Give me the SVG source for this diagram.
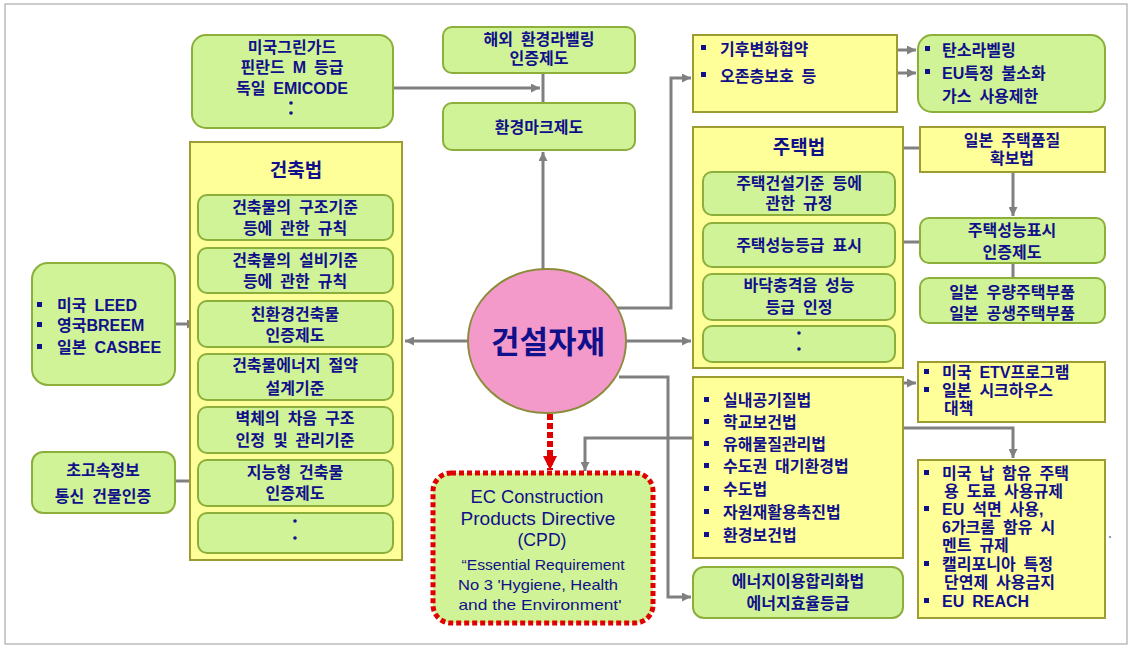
<svg xmlns="http://www.w3.org/2000/svg" width="1133" height="649" viewBox="0 0 1133 649">
<defs>
<marker id="ag" viewBox="0 0 10 10" refX="10" refY="5" markerWidth="10" markerHeight="9" markerUnits="userSpaceOnUse" orient="auto"><path d="M0,0 L10,5 L0,10 z" fill="#808080"/></marker>
<marker id="ar" viewBox="0 0 10 10" refX="10" refY="5" markerWidth="14" markerHeight="14" markerUnits="userSpaceOnUse" orient="auto"><path d="M0,0 L10,5 L0,10 z" fill="#E00000"/></marker>
</defs>
<style>
.g{fill:#D1F397;stroke:#8BAF3A;stroke-width:2}
.y{fill:#FFFF99;stroke:#9C9C32;stroke-width:2}
.t{font-family:"Liberation Sans","Noto Sans CJK KR",sans-serif;font-weight:bold;font-size:16px;fill:#10108A;word-spacing:3.5px}
.c{text-anchor:middle}
.e{font-family:"Liberation Sans","DejaVu Sans",sans-serif;fill:#10108A;text-anchor:middle}
.b{fill:#10108A}
.ln{fill:none;stroke:#808080;stroke-width:3}
</style>
<rect width="1133" height="649" fill="#FFFFFF"/>
<rect x="5" y="4" width="1122" height="640" fill="none" stroke="#9A9A9A" stroke-width="1"/>

<g id="connectors">
<path class="ln" d="M393,88 H540" marker-end="url(#ag)"/>
<path class="ln" d="M543,73 V103"/>
<path class="ln" d="M543,270 V152" marker-end="url(#ag)"/>
<path class="ln" d="M468,341 H405" marker-end="url(#ag)"/>
<path class="ln" d="M627,341 H691" marker-end="url(#ag)"/>
<path class="ln" d="M617,308 H671 V78 H691" marker-end="url(#ag)"/>
<path class="ln" d="M619,377 H668 V597 H691" marker-end="url(#ag)"/>
<path d="M550,414 V470" fill="none" stroke="#E00000" stroke-width="6" stroke-dasharray="6 3" marker-end="url(#ar)"/>
<path class="ln" d="M702,438 H585 V471" marker-end="url(#ag)"/>
<path class="ln" d="M870,383 H916" marker-end="url(#ag)"/>
<path class="ln" d="M870,428 H1013 V458" marker-end="url(#ag)"/>
<path class="ln" d="M862,50 H916" marker-end="url(#ag)"/>
<path class="ln" d="M862,73 H916" marker-end="url(#ag)"/>
<path class="ln" d="M903,148 H920"/>
<path class="ln" d="M1013,172 V216" marker-end="url(#ag)"/>
<path class="ln" d="M895,242 H920"/>
<path class="ln" d="M1013,263 V278"/>
<path class="ln" d="M175,324 H196" marker-end="url(#ag)"/>
<path class="ln" d="M175,481 H198"/>
</g>

<g id="n-greenguard">
<rect class="g" x="192" y="35" width="201" height="93" rx="14"/>
<text class="t c" x="292" y="53">미국그린가드</text>
<text class="t c" x="292" y="73">핀란드 M 등급</text>
<text class="t c" x="292" y="94">독일 EMICODE</text>
<circle class="b" cx="291" cy="103" r="1.8"/>
<circle class="b" cx="291" cy="113" r="1.8"/>
</g>

<g id="n-overseas">
<rect class="g" x="443" y="27" width="192" height="46" rx="9"/>
<text class="t c" x="539" y="45">해외 환경라벨링</text>
<text class="t c" x="539" y="64">인증제도</text>
</g>

<g id="n-ecomark">
<rect class="g" x="443" y="103" width="192" height="47" rx="9"/>
<text class="t c" x="539" y="133">환경마크제도</text>
</g>

<g id="n-climate">
<rect class="y" x="693" y="35" width="204" height="77"/>
<rect class="b" x="701" y="45" width="5" height="5"/>
<text class="t" x="720" y="55">기후변화협약</text>
<rect class="b" x="701" y="72" width="5" height="5"/>
<text class="t" x="720" y="82">오존층보호 등</text>
</g>

<g id="n-carbon">
<rect class="g" x="918" y="35" width="187" height="77" rx="14"/>
<rect class="b" x="925" y="46" width="5" height="5"/>
<text class="t" x="942" y="56">탄소라벨링</text>
<rect class="b" x="925" y="69" width="5" height="5"/>
<text class="t" x="942" y="79">EU특정 불소화</text>
<text class="t" x="942" y="102">가스 사용제한</text>
</g>

<g id="n-housing">
<rect class="y" x="693" y="127" width="210" height="241"/>
<text class="t c" x="799" y="154" style="font-size:19px">주택법</text>
<rect class="g" x="703" y="172" width="192" height="43" rx="9"/>
<text class="t c" x="799" y="189">주택건설기준 등에</text>
<text class="t c" x="799" y="209">관한 규정</text>
<rect class="g" x="703" y="223" width="192" height="44" rx="9"/>
<text class="t c" x="799" y="251">주택성능등급 표시</text>
<rect class="g" x="703" y="274" width="192" height="46" rx="9"/>
<text class="t c" x="799" y="291">바닥충격음 성능</text>
<text class="t c" x="799" y="313">등급 인정</text>
<rect class="g" x="703" y="326" width="192" height="36" rx="9"/>
<circle class="b" cx="799" cy="333" r="1.8"/>
<circle class="b" cx="799" cy="349" r="1.8"/>
</g>

<g id="n-jp-quality">
<rect class="y" x="920" y="127" width="185" height="45"/>
<text class="t c" x="1012" y="146">일본 주택품질</text>
<text class="t c" x="1012" y="164">확보법</text>
</g>

<g id="n-perf">
<rect class="g" x="920" y="218" width="185" height="45" rx="9"/>
<text class="t c" x="1012" y="236">주택성능표시</text>
<text class="t c" x="1012" y="258">인증제도</text>
</g>

<g id="n-jp-parts">
<rect class="g" x="920" y="278" width="185" height="45" rx="9"/>
<text class="t c" x="1012" y="298">일본 우량주택부품</text>
<text class="t c" x="1012" y="319">일본 공생주택부품</text>
</g>

<g id="n-indoor">
<rect class="y" x="693" y="377" width="210" height="181"/>
<rect class="b" x="704" y="397" width="5" height="5"/><text class="t" x="723" y="406">실내공기질법</text>
<rect class="b" x="704" y="419" width="5" height="5"/><text class="t" x="723" y="428">학교보건법</text>
<rect class="b" x="704" y="441" width="5" height="5"/><text class="t" x="723" y="450">유해물질관리법</text>
<rect class="b" x="704" y="463" width="5" height="5"/><text class="t" x="723" y="472">수도권 대기환경법</text>
<rect class="b" x="704" y="486" width="5" height="5"/><text class="t" x="723" y="495">수도법</text>
<rect class="b" x="704" y="509" width="5" height="5"/><text class="t" x="723" y="518">자원재활용촉진법</text>
<rect class="b" x="704" y="532" width="5" height="5"/><text class="t" x="723" y="541">환경보건법</text>
</g>

<g id="n-energy">
<rect class="g" x="693" y="567" width="210" height="51" rx="11"/>
<text class="t c" x="798" y="587">에너지이용합리화법</text>
<text class="t c" x="798" y="609">에너지효율등급</text>
</g>

<g id="n-etv">
<rect class="y" x="918" y="362" width="187" height="60"/>
<rect class="b" x="924" y="369" width="5" height="5"/><text class="t" x="942" y="378">미국 ETV프로그램</text>
<rect class="b" x="924" y="387" width="5" height="5"/><text class="t" x="942" y="396">일본 시크하우스</text>
<text class="t" x="944" y="414">대책</text>
</g>

<g id="n-lead">
<rect class="y" x="918" y="460" width="187" height="158"/>
<rect class="b" x="924" y="470" width="5" height="5"/><text class="t" x="942" y="479">미국 납 함유 주택</text>
<text class="t" x="944" y="497">용 도료 사용규제</text>
<rect class="b" x="924" y="506" width="5" height="5"/><text class="t" x="942" y="515">EU 석면 사용,</text>
<text class="t" x="942" y="533">6가크롬 함유 시</text>
<text class="t" x="942" y="551">멘트 규제</text>
<rect class="b" x="924" y="561" width="5" height="5"/><text class="t" x="942" y="570">캘리포니아 특정</text>
<text class="t" x="944" y="588">단연제 사용금지</text>
<rect class="b" x="924" y="598" width="5" height="5"/><text class="t" x="942" y="607">EU REACH</text>
<circle cx="1110" cy="537" r="1" fill="#6A7AA0"/>
</g>

<g id="n-building-act">
<rect class="y" x="190" y="142" width="212" height="418"/>
<text class="t c" x="296" y="177" style="font-size:19px">건축법</text>
<rect class="g" x="198" y="195" width="195" height="45" rx="9"/>
<text class="t c" x="295" y="213">건축물의 구조기준</text>
<text class="t c" x="295" y="234">등에 관한 규칙</text>
<rect class="g" x="198" y="248" width="195" height="45" rx="9"/>
<text class="t c" x="295" y="266">건축물의 설비기준</text>
<text class="t c" x="295" y="287">등에 관한 규칙</text>
<rect class="g" x="198" y="301" width="195" height="46" rx="9"/>
<text class="t c" x="295" y="320">친환경건축물</text>
<text class="t c" x="295" y="341">인증제도</text>
<rect class="g" x="198" y="354" width="195" height="46" rx="9"/>
<text class="t c" x="295" y="371">건축물에너지 절약</text>
<text class="t c" x="295" y="394">설계기준</text>
<rect class="g" x="198" y="407" width="195" height="46" rx="9"/>
<text class="t c" x="295" y="424">벽체의 차음 구조</text>
<text class="t c" x="295" y="446">인정 및 관리기준</text>
<rect class="g" x="198" y="460" width="195" height="46" rx="9"/>
<text class="t c" x="295" y="478">지능형 건축물</text>
<text class="t c" x="295" y="499">인증제도</text>
<rect class="g" x="198" y="513" width="195" height="40" rx="9"/>
<circle class="b" cx="295" cy="521" r="1.8"/>
<circle class="b" cx="295" cy="538" r="1.8"/>
</g>

<g id="n-leed">
<rect class="g" x="32" y="263" width="143" height="122" rx="16"/>
<rect class="b" x="37" y="302" width="5" height="5"/><text class="t" x="57" y="311">미국 LEED</text>
<rect class="b" x="37" y="322" width="5" height="5"/><text class="t" x="57" y="331">영국BREEM</text>
<rect class="b" x="37" y="344" width="5" height="5"/><text class="t" x="57" y="353">일본 CASBEE</text>
</g>

<g id="n-ultra">
<rect class="g" x="32" y="452" width="143" height="61" rx="11"/>
<text class="t c" x="103" y="476">초고속정보</text>
<text class="t c" x="103" y="502">통신 건물인증</text>
</g>

<g id="n-center">
<ellipse cx="547" cy="341" rx="79" ry="72" fill="#F49ACB" stroke="#8C8C3C" stroke-width="2"/>
<text class="t c" x="548" y="353" style="font-size:31px">건설자재</text>
</g>

<g id="n-cpd">
<rect x="433" y="473" width="220" height="150" rx="18" fill="#D1F397" stroke="#E00000" stroke-width="5" stroke-dasharray="5 3"/>
<text class="e" x="537" y="503" font-size="18" textLength="133" lengthAdjust="spacingAndGlyphs">EC Construction</text>
<text class="e" x="538" y="525" font-size="18" textLength="155" lengthAdjust="spacingAndGlyphs">Products Directive</text>
<text class="e" x="542" y="546" font-size="18" textLength="49" lengthAdjust="spacingAndGlyphs">(CPD)</text>
<text class="e" x="543" y="570" font-size="15" textLength="163" lengthAdjust="spacingAndGlyphs">“Essential Requirement</text>
<text class="e" x="538" y="590" font-size="15" textLength="160" lengthAdjust="spacingAndGlyphs">No 3 'Hygiene, Health</text>
<text class="e" x="540" y="610" font-size="15" textLength="163" lengthAdjust="spacingAndGlyphs">and the Environment'</text>
</g>
</svg>
